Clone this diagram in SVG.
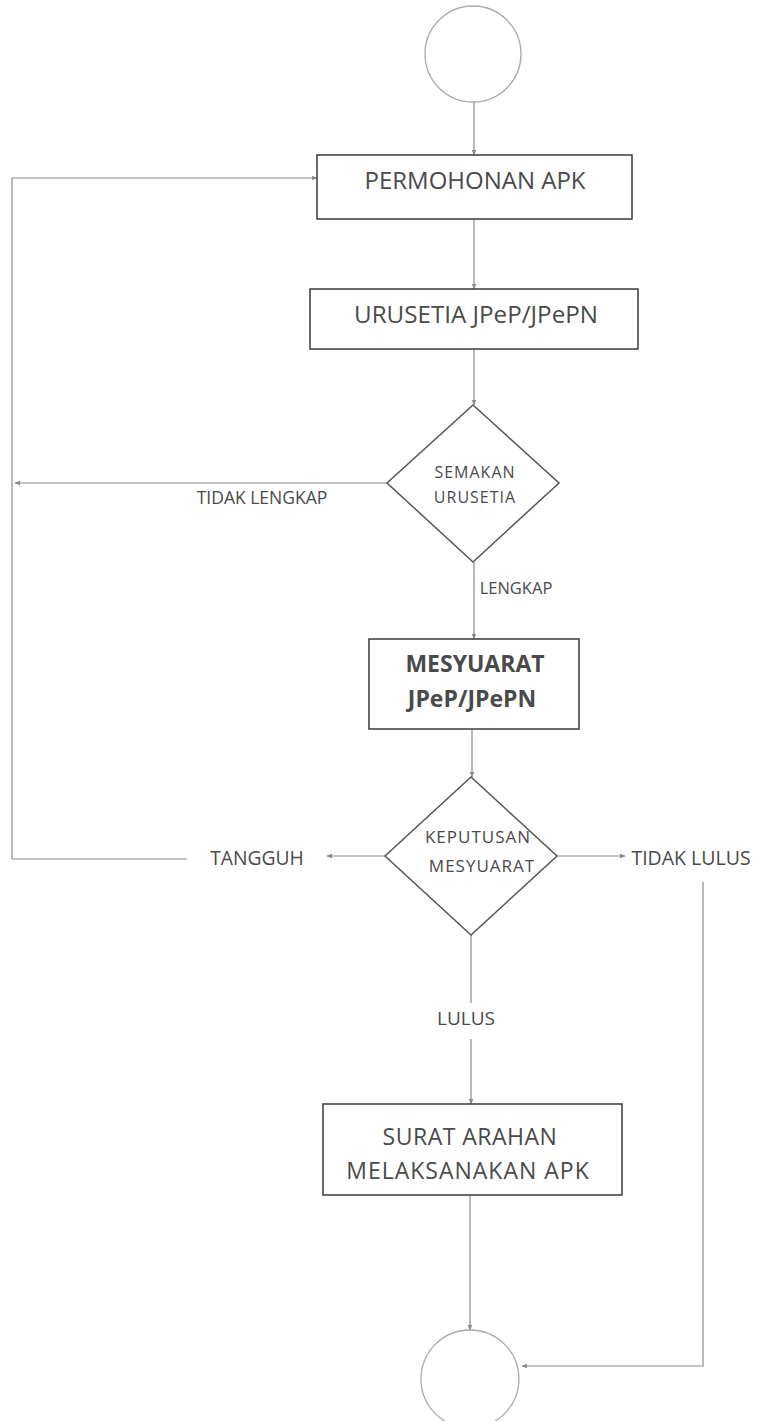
<svg xmlns="http://www.w3.org/2000/svg" width="758" height="1421" viewBox="0 0 758 1421">
<defs>
<style>
.t{font-family:"Open Sans","Liberation Sans",sans-serif;fill:#4a4a4a;text-anchor:middle}
.d{letter-spacing:1px}
.box{fill:#fff;stroke:#3a3a3a;stroke-width:1.5}
.circ{fill:#fff;stroke:#aaa;stroke-width:1.3}
.dia{fill:#fff;stroke:#555;stroke-width:1.5}
.ln{fill:none;stroke:#8a8a8a;stroke-width:1.2}
</style>
<marker id="ar" viewBox="0 0 10 10" refX="9" refY="5" markerWidth="6" markerHeight="6" orient="auto-start-reverse" markerUnits="userSpaceOnUse">
<path d="M0,1 L10,5 L0,9 z" fill="#8a8a8a"/>
</marker>
</defs>
<rect width="758" height="1421" fill="#fff"/>
<g id="connectors">
<line class="ln" x1="474" y1="102" x2="474" y2="155" marker-end="url(#ar)"/>
<line class="ln" x1="474" y1="219" x2="474" y2="289" marker-end="url(#ar)"/>
<line class="ln" x1="474" y1="349" x2="474" y2="405" marker-end="url(#ar)"/>
<line class="ln" x1="387" y1="483" x2="15" y2="483" marker-end="url(#ar)"/>
<line class="ln" x1="474" y1="562" x2="474" y2="639" marker-end="url(#ar)"/>
<line class="ln" x1="472" y1="729" x2="472" y2="777" marker-end="url(#ar)"/>
<line class="ln" x1="385" y1="856" x2="327" y2="856" marker-end="url(#ar)"/>
<polyline class="ln" points="187,859 12,859 12,178 317,178" marker-end="url(#ar)"/>
<line class="ln" x1="557" y1="856" x2="625" y2="856" marker-end="url(#ar)"/>
<polyline class="ln" points="703,882 703,1366 522,1366" marker-end="url(#ar)"/>
<line class="ln" x1="471" y1="935" x2="471" y2="1003"/>
<line class="ln" x1="471" y1="1039" x2="471" y2="1104" marker-end="url(#ar)"/>
<line class="ln" x1="470" y1="1195" x2="470" y2="1330" marker-end="url(#ar)"/>
</g>
<g id="start"><circle class="circ" cx="473" cy="54" r="48"/></g>
<g id="permohonan">
<rect class="box" x="317" y="155" width="315" height="64"/>
<text class="t" x="475" y="189" font-size="24">PERMOHONAN APK</text>
</g>
<g id="urusetia">
<rect class="box" x="310" y="289" width="328" height="60"/>
<text class="t" x="476" y="323" font-size="24.2">URUSETIA JPeP/JPePN</text>
</g>
<g id="semakan">
<polygon class="dia" points="473,405 559,483 473,562 387,483"/>
<text class="t d" x="475" y="478" font-size="16">SEMAKAN</text>
<text class="t d" x="475" y="503" font-size="16">URUSETIA</text>
</g>
<text class="t" x="262" y="504" font-size="17.5">TIDAK LENGKAP</text>
<text class="t" x="516" y="594" font-size="16.5">LENGKAP</text>
<g id="mesyuarat">
<rect class="box" x="369" y="639" width="210" height="90"/>
<text class="t" x="475" y="672" font-size="23" font-weight="bold">MESYUARAT</text>
<text class="t" x="472" y="707" font-size="23" font-weight="bold">JPeP/JPePN</text>
</g>
<g id="keputusan">
<polygon class="dia" points="471,777 557,856 471,935 385,856"/>
<text class="t d" x="478" y="843" font-size="17">KEPUTUSAN</text>
<text class="t d" x="482" y="872" font-size="17">MESYUARAT</text>
</g>
<text class="t" x="257" y="865" font-size="19.3">TANGGUH</text>
<text class="t" x="691" y="865" font-size="19.5">TIDAK LULUS</text>
<text class="t" x="466" y="1025" font-size="19">LULUS</text>
<g id="surat">
<rect class="box" x="323" y="1104" width="299" height="91"/>
<text class="t" x="470" y="1145" font-size="23" letter-spacing="0.5">SURAT ARAHAN</text>
<text class="t" x="468" y="1179" font-size="23" letter-spacing="1">MELAKSANAKAN APK</text>
</g>
<g id="end"><circle class="circ" cx="470" cy="1379" r="49"/></g>
</svg>
